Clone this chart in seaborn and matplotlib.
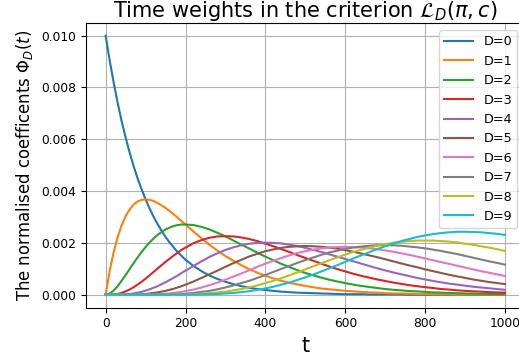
import seaborn as sns
import matplotlib.pyplot as plt
import pandas as pd

# time grid (t): finer where the early curves bend sharply
t = [0, 10, 20, 30, 40, 50, 60, 70, 80, 90, 100, 110, 120, 130, 140, 150,
     160, 170, 180, 190, 200,
     220, 240, 260, 280, 300, 320, 340, 360, 380, 400, 420, 440, 460, 480, 500,
     520, 540, 560, 580, 600, 620, 640, 660, 680, 700, 720, 740, 760, 780, 800,
     820, 840, 860, 880, 900, 920, 940, 960, 980, 1000]

# normalised coefficients Phi_D(t)
phi_d0 = [0.01000, 0.00905, 0.00819, 0.00741, 0.00670, 0.00607, 0.00549, 0.00497,
          0.00449, 0.00407, 0.00368, 0.00333, 0.00301, 0.00273, 0.00247, 0.00223,
          0.00202, 0.00183, 0.00165, 0.00150, 0.00135,
          0.00111, 0.00091, 0.00074, 0.00061, 0.00050,
          0.00041, 0.00033, 0.00027, 0.00022, 0.00018,
          0.00015, 0.00012, 0.00010, 0.00008, 0.00007,
          0.00006, 0.00005, 0.00004, 0.00003, 0.00002,
          0.00002, 0.00002, 0.00001, 0.00001, 0.00001,
          0.00001, 0.00001, 0.0, 0.0, 0.0,
          0.0, 0.0, 0.0, 0.0, 0.0,
          0.0, 0.0, 0.0, 0.0, 0.0]
phi_d1 = [0.0, 0.00091, 0.00164, 0.00222, 0.00268, 0.00303, 0.00329, 0.00348,
          0.00360, 0.00366, 0.00368, 0.00366, 0.00362, 0.00354, 0.00345, 0.00335,
          0.00323, 0.00311, 0.00298, 0.00284, 0.00271,
          0.00244, 0.00218, 0.00193, 0.00170, 0.00149,
          0.00131, 0.00114, 0.00098, 0.00085, 0.00073,
          0.00063, 0.00054, 0.00046, 0.00040, 0.00034,
          0.00029, 0.00024, 0.00021, 0.00018, 0.00015,
          0.00013, 0.00011, 0.00009, 0.00008, 0.00006,
          0.00005, 0.00005, 0.00004, 0.00003, 0.00003,
          0.00002, 0.00002, 0.00002, 0.00001, 0.00001,
          0.00001, 0.00001, 0.00001, 0.00001, 0.0]
phi_d2 = [0.0, 0.00005, 0.00016, 0.00033, 0.00054, 0.00076, 0.00099, 0.00122,
          0.00144, 0.00165, 0.00184, 0.00202, 0.00217, 0.00231, 0.00242, 0.00252,
          0.00259, 0.00265, 0.00269, 0.00271, 0.00271,
          0.00269, 0.00262, 0.00252, 0.00239, 0.00225,
          0.00209, 0.00193, 0.00178, 0.00162, 0.00147,
          0.00133, 0.00119, 0.00107, 0.00095, 0.00084,
          0.00075, 0.00066, 0.00058, 0.00051, 0.00045,
          0.00039, 0.00034, 0.00030, 0.00026, 0.00022,
          0.00019, 0.00017, 0.00014, 0.00013, 0.00011,
          0.00009, 0.00008, 0.00007, 0.00006, 0.00005,
          0.00004, 0.00004, 0.00003, 0.00003, 0.00002]
phi_d3 = [0.0, 0.0, 0.00001, 0.00003, 0.00007, 0.00013, 0.00020, 0.00029,
          0.00039, 0.00050, 0.00062, 0.00075, 0.00088, 0.00101, 0.00114, 0.00127,
          0.00139, 0.00151, 0.00162, 0.00173, 0.00182,
          0.00199, 0.00211, 0.00220, 0.00225, 0.00226,
          0.00225, 0.00221, 0.00215, 0.00207, 0.00197,
          0.00187, 0.00176, 0.00165, 0.00153, 0.00142,
          0.00131, 0.00120, 0.00109, 0.00099, 0.00090,
          0.00081, 0.00073, 0.00066, 0.00059, 0.00053,
          0.00047, 0.00042, 0.00037, 0.00033, 0.00029,
          0.00026, 0.00022, 0.00020, 0.00017, 0.00015,
          0.00013, 0.00012, 0.00010, 0.00009, 0.00008]
phi_d4 = [0.0, 0.0, 0.0, 0.0, 0.00001, 0.00002, 0.00003, 0.00005,
          0.00008, 0.00011, 0.00016, 0.00021, 0.00027, 0.00033, 0.00041, 0.00048,
          0.00057, 0.00065, 0.00074, 0.00084, 0.00093,
          0.00111, 0.00129, 0.00146, 0.00160, 0.00173,
          0.00183, 0.00191, 0.00197, 0.00200, 0.00201,
          0.00200, 0.00198, 0.00193, 0.00188, 0.00181,
          0.00173, 0.00165, 0.00156, 0.00147, 0.00138,
          0.00129, 0.00120, 0.00111, 0.00102, 0.00094,
          0.00086, 0.00079, 0.00072, 0.00065, 0.00059,
          0.00053, 0.00048, 0.00043, 0.00039, 0.00035,
          0.00031, 0.00028, 0.00025, 0.00022, 0.00019]
phi_d5 = [0.0, 0.0, 0.0, 0.0, 0.0, 0.0, 0.0, 0.00001,
          0.00001, 0.00002, 0.00003, 0.00005, 0.00007, 0.00009, 0.00012, 0.00015,
          0.00019, 0.00023, 0.00028, 0.00033, 0.00039,
          0.00051, 0.00065, 0.00079, 0.00093, 0.00108,
          0.00122, 0.00135, 0.00148, 0.00158, 0.00168,
          0.00175, 0.00181, 0.00185, 0.00187, 0.00188,
          0.00187, 0.00185, 0.00182, 0.00178, 0.00172,
          0.00166, 0.00159, 0.00152, 0.00145, 0.00137,
          0.00129, 0.00121, 0.00113, 0.00106, 0.00098,
          0.00091, 0.00084, 0.00077, 0.00071, 0.00065,
          0.00059, 0.00054, 0.00049, 0.00045, 0.00041]
phi_d6 = [0.0, 0.0, 0.0, 0.0, 0.0, 0.0, 0.0, 0.0,
          0.0, 0.0, 0.00001, 0.00001, 0.00001, 0.00002, 0.00003, 0.00004,
          0.00005, 0.00007, 0.00009, 0.00011, 0.00014,
          0.00020, 0.00028, 0.00037, 0.00047, 0.00058,
          0.00070, 0.00082, 0.00095, 0.00108, 0.00120,
          0.00131, 0.00142, 0.00152, 0.00161, 0.00168,
          0.00174, 0.00179, 0.00182, 0.00184, 0.00185,
          0.00184, 0.00182, 0.00179, 0.00176, 0.00171,
          0.00166, 0.00160, 0.00154, 0.00147, 0.00140,
          0.00133, 0.00126, 0.00119, 0.00112, 0.00105,
          0.00098, 0.00091, 0.00085, 0.00079, 0.00072]
phi_d7 = [0.0, 0.0, 0.0, 0.0, 0.0, 0.0, 0.0, 0.0,
          0.0, 0.0, 0.0, 0.0, 0.0, 0.0, 0.00001, 0.00001,
          0.00001, 0.00002, 0.00003, 0.00003, 0.00004,
          0.00007, 0.00011, 0.00015, 0.00021, 0.00028,
          0.00036, 0.00045, 0.00054, 0.00065, 0.00076,
          0.00088, 0.00100, 0.00111, 0.00123, 0.00134,
          0.00144, 0.00154, 0.00163, 0.00170, 0.00177,
          0.00182, 0.00186, 0.00189, 0.00191, 0.00191,
          0.00191, 0.00189, 0.00186, 0.00183, 0.00179,
          0.00174, 0.00169, 0.00163, 0.00157, 0.00150,
          0.00143, 0.00136, 0.00129, 0.00123, 0.00116]
phi_d8 = [0.0, 0.0, 0.0, 0.0, 0.0, 0.0, 0.0, 0.0,
          0.0, 0.0, 0.0, 0.0, 0.0, 0.0, 0.0, 0.0,
          0.0, 0.0, 0.00001, 0.00001, 0.00001,
          0.00002, 0.00004, 0.00006, 0.00009, 0.00012,
          0.00017, 0.00022, 0.00029, 0.00036, 0.00045,
          0.00054, 0.00064, 0.00075, 0.00086, 0.00098,
          0.00110, 0.00121, 0.00133, 0.00144, 0.00155,
          0.00165, 0.00174, 0.00182, 0.00189, 0.00195,
          0.00201, 0.00204, 0.00207, 0.00209, 0.00209,
          0.00209, 0.00207, 0.00205, 0.00202, 0.00197,
          0.00193, 0.00187, 0.00182, 0.00176, 0.00169]
phi_d9 = [0.0, 0.0, 0.0, 0.0, 0.0, 0.0, 0.0, 0.0,
          0.0, 0.0, 0.0, 0.0, 0.0, 0.0, 0.0, 0.0,
          0.0, 0.0, 0.0, 0.0, 0.0,
          0.00001, 0.00001, 0.00002, 0.00003, 0.00005,
          0.00007, 0.00010, 0.00014, 0.00019, 0.00024,
          0.00031, 0.00039, 0.00047, 0.00057, 0.00067,
          0.00078, 0.00090, 0.00102, 0.00114, 0.00127,
          0.00140, 0.00152, 0.00164, 0.00176, 0.00187,
          0.00197, 0.00207, 0.00215, 0.00223, 0.00229,
          0.00234, 0.00238, 0.00241, 0.00243, 0.00243,
          0.00242, 0.00241, 0.00238, 0.00235, 0.00231]

curves = [phi_d0, phi_d1, phi_d2, phi_d3, phi_d4, phi_d5, phi_d6, phi_d7, phi_d8, phi_d9]
labels = [f"D={d}" for d in range(10)]

plt.rcParams["font.size"] = 8.8
colors = sns.color_palette("tab10", 10)

fig = plt.figure(figsize=(5.19, 3.6), dpi=100)
ax = fig.add_axes([0.1651, 0.1453, 0.8464, 0.7917])

for d, vals in enumerate(curves):
    df = pd.DataFrame({"t": t, "phi": vals})
    sns.lineplot(data=df, x="t", y="phi", color=colors[d], label=labels[d], ax=ax)

ax.grid(True, color="#b0b0b0", linewidth=0.8)
ax.set_title(r"Time weights in the criterion $\mathcal{L}_D(\pi, c)$", fontsize=15, pad=4)
ax.set_xlabel("t", fontsize=15)
ax.set_ylabel(r"The normalised coefficents $\Phi_D(t)$", fontsize=11.9)
ax.set_xticks([0, 200, 400, 600, 800, 1000])
ax.legend(loc="upper right", fontsize=9.2, handlelength=2.25, borderaxespad=0.6)

fig.savefig("out.png", dpi=100)
plt.close()
